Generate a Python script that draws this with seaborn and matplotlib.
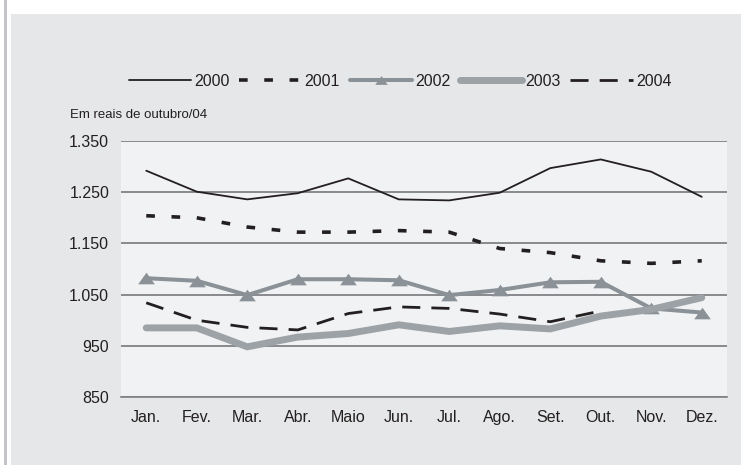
import numpy as np
import pandas as pd
import seaborn as sns
import matplotlib.pyplot as plt
from matplotlib.patches import Rectangle
from matplotlib.ticker import FuncFormatter, FixedLocator

meses = ["Jan.", "Fev.", "Mar.", "Abr.", "Maio", "Jun.", "Jul.", "Ago.", "Set.", "Out.", "Nov.", "Dez."]

v2000 = [1292, 1251, 1236, 1248, 1277, 1236, 1234, 1249, 1297, 1314, 1290, 1241]
v2001 = [1204, 1200, 1182, 1172, 1172, 1175, 1172, 1140, 1132, 1116, 1111, 1116]
v2002 = [1082, 1077, 1049, 1080, 1080, 1078, 1049, 1059, 1074, 1075, 1023, 1015]
v2003 = [985, 985, 948, 967, 974, 991, 978, 989, 983, 1008, 1021, 1044]
v2004 = [1034, 1000, 986, 981, 1013, 1026, 1023, 1012, 997, 1018]

sns.set_style("white")
plt.rcParams["font.family"] = ["Liberation Sans", "DejaVu Sans"]

fig = plt.figure(figsize=(7.41, 4.65), dpi=100)
W, H = 741, 465
# outer panel and left bar
fig.patches.append(Rectangle((11 / W, 0), 730 / W, 1 - 14 / H, transform=fig.transFigure,
                             facecolor="#e6e7e8", edgecolor="none", zorder=-5))
fig.patches.append(Rectangle((4 / W, 0), 3 / W, 1, transform=fig.transFigure,
                             facecolor="#c3c4c8", edgecolor="none", zorder=-5))

ax = fig.add_axes([121 / W, 1 - 397 / H, 606 / W, 256 / H])
ax.set_facecolor("#f1f2f4")

# flatter triangle like the original
tri = [(-1, -0.7), (1, -0.7), (0, 0.7), (-1, -0.7)]

x = np.arange(len(meses))
series = [
    ("2000", v2000, dict(color="#231f20", linewidth=1.3)),
    ("2001", v2001, dict(color="#231f20", linewidth=2.6, dashes=(2.4, 4.6))),
    ("2002", v2002, dict(color="#8a9197", linewidth=2.9, marker=tri, markersize=12,
                         markeredgewidth=0)),
    ("2003", v2003, dict(color="#9da2a7", linewidth=5.0)),
    ("2004", v2004, dict(color="#231f20", linewidth=2.0, dashes=(6.5, 4.0))),
]
for name, vals, kw in series:
    dashes = kw.pop("dashes", None)
    sns.lineplot(x=x[:len(vals)], y=vals, ax=ax, label=name, **kw)
    if dashes is not None:
        ax.lines[-1].set_dashes(dashes)

ax.set_xlim(-0.5, 11.5)
ax.set_ylim(850, 1350)
ax.set_yticks([850, 950, 1050, 1150, 1250, 1350])
ax.yaxis.set_major_formatter(FuncFormatter(lambda v, p: f"{int(v):,}".replace(",", ".")))
ax.set_xticks(x)
ax.set_xticklabels(meses)
ax.xaxis.set_minor_locator(FixedLocator(np.arange(-0.5, 12, 1)))
ax.tick_params(axis="x", which="major", length=0, pad=9, labelsize=11.5, colors="#231f20")
ax.tick_params(axis="x", which="minor", length=4, width=1, color="#555555", direction="out")
ax.tick_params(axis="y", length=0, pad=8.5, labelsize=11.5, colors="#231f20")
ax.grid(axis="y", color="#6d6e71", linewidth=1.1)
ax.set_axisbelow(True)
for s in ["left", "right", "top"]:
    ax.spines[s].set_visible(False)
ax.spines["bottom"].set_color("#808080")
ax.spines["bottom"].set_linewidth(1.2)
ax.set_xlabel("")
ax.set_ylabel("")

fig.text(70 / W, 1 - 115 / H, "Em reais de outubro/04", fontsize=9.5, color="#231f20", va="center")

leg = ax.legend(loc="center", bbox_to_anchor=(400 / W, 1 - 81 / H), bbox_transform=fig.transFigure,
                ncol=5, frameon=False, handlelength=3.9, handletextpad=0.2, columnspacing=0.6,
                fontsize=11.5)
for t in leg.get_texts():
    t.set_color("#231f20")
for h in leg.legend_handles:
    if h.get_label() == "2002":
        h.set_markersize(9)

fig.savefig("out.png", dpi=100)
